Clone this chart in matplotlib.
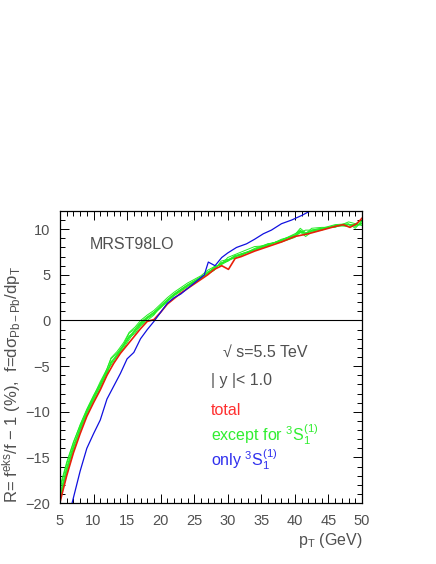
import matplotlib
matplotlib.use('Agg')
import matplotlib.pyplot as plt

plt.rcParams['font.family'] = ['Liberation Sans', 'DejaVu Sans']
plt.rcParams['mathtext.fontset'] = 'custom'
plt.rcParams['mathtext.rm'] = 'Liberation Sans'
plt.rcParams['mathtext.it'] = 'Liberation Sans'

# total
red_x = [5, 6, 7, 8, 9, 10, 11, 12, 13, 14, 15, 16, 17, 18, 19, 20, 21, 22, 23, 24,
         25, 26, 27, 28, 29.1, 30.1, 31.1, 32, 34, 36, 38, 40, 42, 44, 46, 47.2, 48.2, 49.2, 50]
red_y = [-19.9, -17.0, -14.5, -12.4, -10.5, -9.0, -7.6, -6.0, -4.7, -3.6, -2.7, -1.8, -0.9,
         -0.1, 0.1, 0.9, 1.8, 2.4, 3.0, 3.5, 4.0, 4.5, 5.0, 5.6, 6.0, 5.6, 6.8, 7.0, 7.6,
         8.1, 8.6, 9.2, 9.5, 9.9, 10.3, 10.5, 10.2, 10.6, 11.2]

# only 3S1(1)
blue_x = [6.8, 8, 9, 10, 11, 12, 13, 14, 15, 16, 17, 18, 19, 20, 21, 22, 23, 24, 25, 26,
          26.5, 27.1, 28.1, 29.1, 30, 31.3, 32.8, 34, 35.3, 36.5, 38, 39.5, 41, 42.3, 43.5]
blue_y = [-20.0, -16.5, -14.0, -12.4, -10.9, -8.6, -7.2, -5.8, -4.2, -3.5, -2.0, -1.0, -0.1,
          0.9, 1.9, 2.5, 2.9, 3.5, 4.1, 4.7, 5.0, 6.4, 6.0, 6.9, 7.4, 8.0, 8.4, 8.9, 9.5,
          9.9, 10.6, 11.0, 11.5, 12.0, 12.6]

# except for 3S1(1), several variants
green_x = [5, 6, 7, 8, 9, 10, 11, 12, 12.6, 13.5, 14.5, 15.3, 16.2, 17, 18, 19, 20, 21, 22,
           24, 26, 27, 28, 29, 30, 31, 32, 34, 36, 38, 40, 40.8, 41.6, 42.5, 44, 46, 48, 49, 50]
green_ys = [
    [-19.3, -16.3, -13.9, -11.8, -10.0, -8.5, -7.0, -5.3, -4.2, -3.6, -2.6, -1.4, -0.9, -0.2,
     0.4, 0.9, 1.5, 2.2, 2.8, 3.8, 4.7, 5.3, 5.7, 6.3, 6.6, 7.0, 7.2, 7.8, 8.3, 8.8, 9.4,
     10.1, 9.6, 9.8, 10.0, 10.3, 10.5, 10.4, 10.7],
    [-18.5, -15.7, -13.4, -11.4, -9.7, -8.2, -6.9, -5.5, -4.9, -3.9, -3.0, -2.1, -1.1, -0.5,
     0.2, 0.7, 1.4, 2.1, 2.7, 3.7, 4.6, 5.1, 5.9, 6.1, 6.5, 6.9, 7.3, 7.7, 8.2, 8.9, 9.3,
     9.6, 9.9, 9.9, 10.1, 10.5, 10.6, 10.1, 10.9],
    [-19.8, -16.8, -14.3, -12.1, -10.3, -8.8, -7.4, -5.9, -4.6, -3.8, -2.8, -1.9, -1.4, -0.6,
     0.0, 0.6, 1.6, 2.3, 2.9, 3.9, 4.8, 5.1, 5.5, 6.5, 6.7, 6.8, 7.1, 7.9, 8.4, 8.6, 9.1,
     9.7, 9.2, 9.7, 9.9, 10.4, 10.3, 10.6, 10.4],
    [-18.2, -15.5, -13.3, -11.5, -9.8, -8.3, -6.7, -5.3, -4.1, -3.4, -2.4, -1.3, -0.7, 0.0,
     0.6, 1.1, 1.8, 2.5, 3.1, 4.1, 4.9, 5.5, 5.9, 6.1, 6.9, 7.2, 7.5, 8.1, 8.2, 8.8, 9.5,
     9.8, 9.5, 10.1, 10.2, 10.2, 10.8, 10.6, 10.9],
    [-19.0, -16.1, -13.7, -11.9, -10.1, -8.6, -7.2, -5.7, -4.5, -3.9, -2.7, -1.8, -1.0, -0.3,
     0.3, 0.8, 1.4, 2.1, 2.8, 3.8, 4.6, 5.3, 5.7, 6.3, 6.5, 7.0, 7.2, 7.7, 8.3, 8.8, 9.3,
     9.9, 9.5, 9.8, 10.0, 10.4, 10.5, 10.3, 10.6],
    [-19.5, -16.5, -14.0, -11.7, -9.9, -8.4, -7.1, -5.6, -4.7, -3.7, -2.7, -1.7, -1.2, -0.4,
     0.3, 0.9, 1.6, 2.2, 2.9, 3.9, 4.7, 5.2, 5.8, 6.2, 6.6, 7.1, 7.3, 7.8, 8.4, 8.7, 9.2,
     9.8, 9.4, 9.9, 10.1, 10.3, 10.5, 10.5, 10.6],
]

x_ticks = [5, 10, 15, 20, 25, 30, 35, 40, 45, 50]
y_ticks = [-20, -15, -10, -5, 0, 5, 10]

text_col = '#505050'

fig = plt.figure(figsize=(4.36, 5.64), dpi=100)
ax = fig.add_axes([0.1376, 0.108, 0.6927, 0.518])

for gy in green_ys:
    ax.plot(green_x, gy, color='#22ee22', lw=0.7)
ax.plot(red_x, red_y, color='#e8200a', lw=1.2)
ax.plot(blue_x, blue_y, color='#1010e0', lw=0.9)
ax.axhline(0, color='black', lw=0.8)

ax.set_xlim(5, 50)
ax.set_ylim(-20, 12)
ax.set_xticks(x_ticks)
ax.set_yticks(y_ticks)
ax.set_xticks(range(5, 51), minor=True)
ax.set_yticks(range(-20, 13), minor=True)
ax.tick_params(which='both', direction='in', top=True, right=True, width=0.7, color='black',
               labelsize=10.5, labelcolor=text_col)
ax.tick_params(which='major', length=6.5)
ax.tick_params(which='minor', length=3.5)
ax.tick_params(axis='x', pad=8)
ax.tick_params(axis='y', pad=7)
for s in ax.spines.values():
    s.set_linewidth(0.9)

ax.set_xlabel(r'p$_{\rm T}$ (GeV)', fontsize=11.5, color=text_col, loc='right', labelpad=2)
ax.set_ylabel(r'R= f$^{\rm eks}$/f $-$ 1 (%),  f=d$\sigma_{\rm Pb-Pb}$/dp$_{\rm T}$',
              fontsize=12, color=text_col, loc='bottom', labelpad=2)

ax.text(0.10, 0.87, 'MRST98LO', transform=ax.transAxes, fontsize=11.5, color=text_col)
ax.text(0.54, 0.50, '√ s=5.5 TeV', transform=ax.transAxes, fontsize=11.5, color=text_col)
ax.text(0.50, 0.405, '| y |< 1.0', transform=ax.transAxes, fontsize=11.5, color=text_col)
ax.text(0.50, 0.30, 'total', transform=ax.transAxes, fontsize=11.5, color='#ff3030')
ax.text(0.50, 0.215, r'except for $^{3}$S$_{1}^{(1)}$', transform=ax.transAxes, fontsize=11.5,
        color='#30ee30')
ax.text(0.50, 0.13, r'only $^{3}$S$_{1}^{(1)}$', transform=ax.transAxes, fontsize=11.5,
        color='#3030ee')

fig.savefig('out.png', dpi=100)
